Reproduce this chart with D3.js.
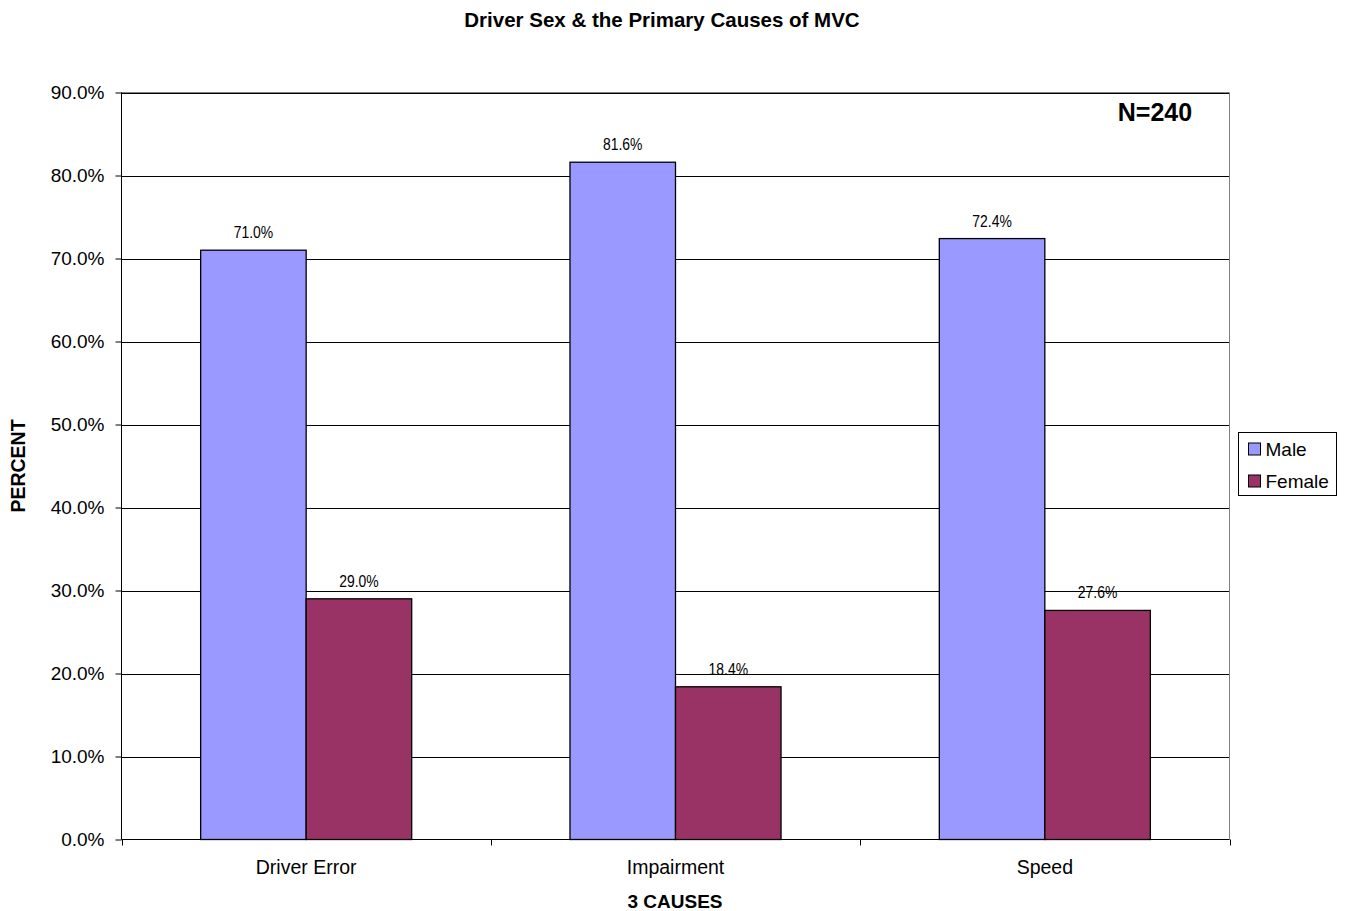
<!DOCTYPE html>
<html>
<head>
<meta charset="utf-8">
<script src="https://cdn.jsdelivr.net/npm/d3@7"></script>
<style>
  html, body { margin: 0; padding: 0; background: #fff; }
  svg { display: block; font-family: Arial, "Liberation Sans", sans-serif; }
</style>
</head>
<body>
<svg id="chart" width="1346" height="911"></svg>
<script>
// Causes of motor-vehicle collisions and share by driver sex
const causes = ["Driver Error", "Impairment", "Speed"];
const seriesNames = ["Male", "Female"];
const maleValues = [71.0, 81.6, 72.4];
const femaleValues = [29.0, 18.4, 27.6];
const yTicks = [0, 10, 20, 30, 40, 50, 60, 70, 80, 90];
const seriesColors = ["#9999FF", "#993366"];

const svg = d3.select("#chart");
const plot = { left: 121.5, right: 1229.5, top: 92.5, bottom: 839.5 };

const x = d3.scaleBand().domain(causes).range([plot.left, plot.right]).paddingInner(0).paddingOuter(0);
const inner = d3.scaleBand().domain(seriesNames).range([0, x.bandwidth()]).paddingInner(0).paddingOuter(0.75);
const y = d3.scaleLinear().domain([0, 90]).range([plot.bottom, plot.top]);

// frame and gridlines
const g = svg.append("g");
g.selectAll("line.grid").data(yTicks.filter(d => d > 0)).join("line")
  .attr("class", "grid")
  .attr("x1", plot.left).attr("x2", plot.right)
  .attr("y1", d => Math.round(y(d)) + 0.5).attr("y2", d => Math.round(y(d)) + 0.5)
  .attr("stroke", "#000").attr("stroke-width", 1);
g.append("line").attr("x1", plot.right).attr("x2", plot.right)
  .attr("y1", plot.top).attr("y2", plot.bottom).attr("stroke", "#808080");
g.append("line").attr("x1", plot.left).attr("x2", plot.right)
  .attr("y1", plot.top).attr("y2", plot.top).attr("stroke", "#808080");

// bars
const rows = causes.map((c, i) => ({ cause: c, values: [maleValues[i], femaleValues[i]] }));
const groups = svg.append("g").selectAll("g").data(rows).join("g")
  .attr("transform", d => `translate(${x(d.cause)},0)`);
groups.selectAll("rect").data(d => d.values.map((v, j) => ({ name: seriesNames[j], v, j }))).join("rect")
  .attr("x", d => inner(d.name))
  .attr("width", inner.bandwidth())
  .attr("y", d => y(d.v))
  .attr("height", d => y(0) - y(d.v))
  .attr("fill", d => seriesColors[d.j])
  .attr("stroke", "#000").attr("stroke-width", 1.3);
// value labels in a condensed face
groups.selectAll("text").data(d => d.values.map((v, j) => ({ name: seriesNames[j], v, j }))).join("text")
  .attr("transform", d => `translate(${inner(d.name) + inner.bandwidth() / 2},${y(d.v) - 12}) scale(0.82,1)`)
  .attr("text-anchor", "middle")
  .attr("font-size", 17)
  .attr("fill", "#000")
  .text(d => d.v.toFixed(1) + "%");

// axes
const yAxis = d3.axisLeft(y).tickValues(yTicks).tickSize(6).tickPadding(11)
  .tickFormat(d => d.toFixed(1) + "%");
const ya = svg.append("g").attr("transform", `translate(${plot.left},0)`).call(yAxis);
ya.select(".domain").attr("stroke", "#000").attr("d", `M0,${plot.top}V${plot.bottom}`);
ya.selectAll(".tick line").attr("stroke", "#000");
ya.selectAll(".tick text").attr("font-size", 19).attr("fill", "#000")
  .attr("font-family", "Arial, 'Liberation Sans', sans-serif");

const xAxis = d3.axisBottom(x).tickSize(0).tickPadding(21);
const xa = svg.append("g").attr("transform", `translate(0,${plot.bottom})`).call(xAxis);
xa.select(".domain").attr("stroke", "#000").attr("d", `M${plot.left},0H${plot.right}`);
xa.selectAll(".tick text").attr("font-size", 19.5).attr("fill", "#000")
  .attr("font-family", "Arial, 'Liberation Sans', sans-serif");
// category separator ticks
const sepTicks = [plot.left].concat(causes.map(c => x(c) + x.bandwidth()));
xa.selectAll("line.sep").data(sepTicks).join("line").attr("class", "sep")
  .attr("x1", d => Math.round(d) + 0.5).attr("x2", d => Math.round(d) + 0.5)
  .attr("y1", 0).attr("y2", 6).attr("stroke", "#000");

// titles
svg.append("text").attr("x", 662).attr("y", 27).attr("text-anchor", "middle")
  .attr("font-size", 20.5).attr("font-weight", "bold").text("Driver Sex & the Primary Causes of MVC");
svg.append("text").attr("x", 675).attr("y", 908).attr("text-anchor", "middle")
  .attr("font-size", 19).attr("font-weight", "bold").text("3 CAUSES");
svg.append("text").attr("transform", "translate(25,466) rotate(-90)").attr("text-anchor", "middle")
  .attr("font-size", 19.5).attr("font-weight", "bold").text("PERCENT");
svg.append("text").attr("x", 1155).attr("y", 121).attr("text-anchor", "middle")
  .attr("font-size", 25).attr("font-weight", "bold").text("N=240");

// legend
const leg = svg.append("g").attr("transform", "translate(1238.5,432.5)");
leg.append("rect").attr("width", 98).attr("height", 63).attr("fill", "#fff").attr("stroke", "#000");
const li = leg.selectAll("g").data(seriesNames).join("g")
  .attr("transform", (d, i) => `translate(0,${16.5 + i * 32})`);
li.append("rect").attr("x", 10).attr("y", -6).attr("width", 12).attr("height", 12)
  .attr("fill", (d, i) => seriesColors[i]).attr("stroke", "#000");
li.append("text").attr("x", 27).attr("y", 7).attr("font-size", 19).text(d => d);
</script>
</body>
</html>
